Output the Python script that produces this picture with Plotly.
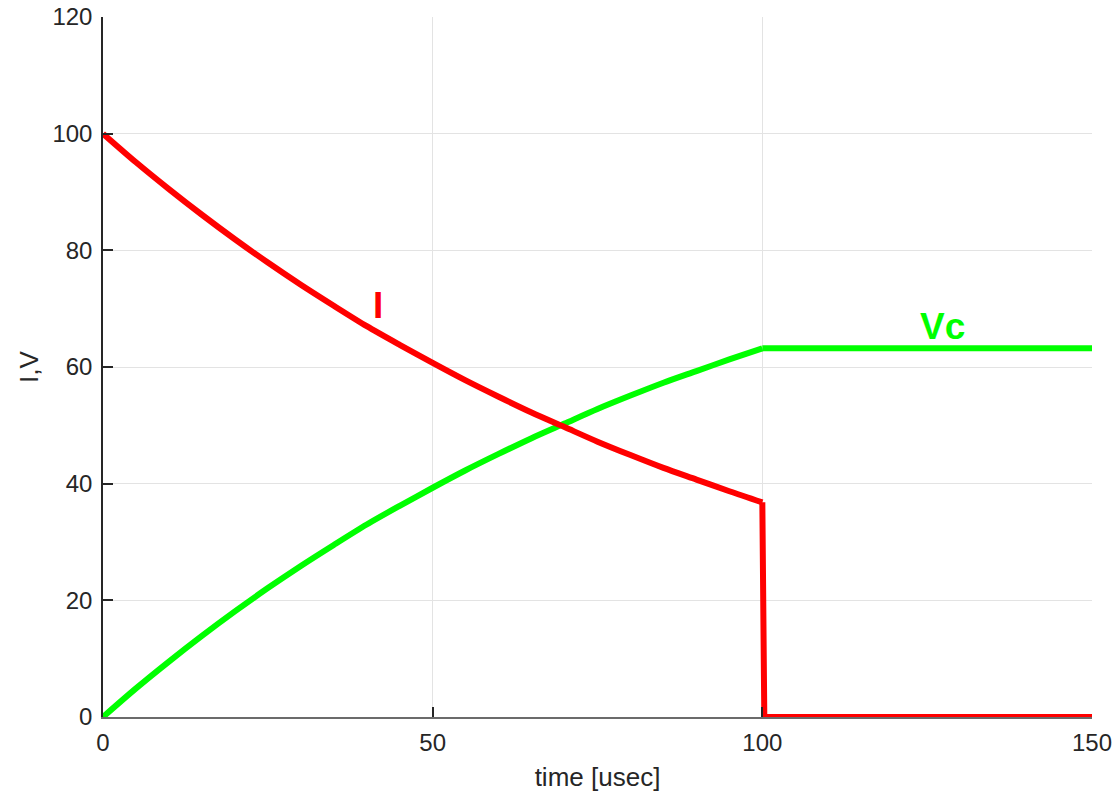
import plotly.graph_objects as go

# time samples [usec]
t_charge = [0, 5, 10, 15, 20, 25, 30, 35, 40, 45, 50,
            55, 60, 65, 70, 75, 80, 85, 90, 95, 100]

# current during charging, then switched off just after 100 usec
current_charge = [100, 95.1, 90.5, 86.1, 81.9, 77.9, 74.1, 70.5, 67.0, 63.8, 60.7,
                  57.7, 54.9, 52.2, 49.7, 47.2, 44.9, 42.7, 40.7, 38.7, 36.8]
t_off = [100, 100.3, 150]
current_off = [36.8, 0, 0]

# capacitor voltage, held after switch-off
vc_charge = [0, 4.9, 9.5, 13.9, 18.1, 22.1, 25.9, 29.5, 33.0, 36.2, 39.3,
             42.3, 45.1, 47.8, 50.3, 52.8, 55.1, 57.3, 59.3, 61.3, 63.2]
t_hold = [100, 150]
vc_hold = [63.2, 63.2]

x_ticks = [0, 50, 100, 150]
y_ticks = [0, 20, 40, 60, 80, 100, 120]

RED = "#ff0000"
GREEN = "#00ff00"
TXT = "#262626"
FONT = "Liberation Sans, Arial, sans-serif"
LW = 6

fig = go.Figure()
fig.add_trace(go.Scatter(x=t_charge, y=vc_charge, mode="lines",
                         line=dict(color=GREEN, width=LW, shape="spline", smoothing=0.8),
                         showlegend=False))
fig.add_trace(go.Scatter(x=t_hold, y=vc_hold, mode="lines",
                         line=dict(color=GREEN, width=LW), showlegend=False))
fig.add_trace(go.Scatter(x=t_charge, y=current_charge, mode="lines",
                         line=dict(color=RED, width=LW, shape="spline", smoothing=0.8),
                         showlegend=False))
fig.add_trace(go.Scatter(x=t_off, y=current_off, mode="lines",
                         line=dict(color=RED, width=LW), showlegend=False))

fig.add_annotation(x=41.7, y=70.5, text="<b>I</b>", showarrow=False,
                   font=dict(family=FONT, size=37, color=RED))
fig.add_annotation(x=127.4, y=67.0, text="<b>Vc</b>", showarrow=False,
                   font=dict(family=FONT, size=37, color=GREEN))

axis_common = dict(
    showgrid=True, gridcolor="#e3e3e3", gridwidth=1,
    zeroline=False, showline=True,
    ticks="inside", ticklen=10, tickcolor=TXT, tickwidth=1.5,
    tickfont=dict(family=FONT, size=24, color=TXT),
    mirror=False, automargin=False,
)

fig.update_xaxes(range=[0, 150], tickvals=x_ticks, ticklabelstandoff=3,
                 linecolor="#6b6b6b", linewidth=2,
                 title=dict(text="time [usec]", font=dict(family=FONT, size=26, color=TXT),
                            standoff=13),
                 **axis_common)
fig.update_yaxes(range=[0, 120], tickvals=y_ticks, ticklabelstandoff=4,
                 linecolor=TXT, linewidth=1.5,
                 title=dict(text="I,V", font=dict(family=FONT, size=26, color=TXT),
                            standoff=6),
                 **axis_common)

fig.update_layout(
    width=1119, height=795,
    margin=dict(l=103, r=27, t=17, b=78),
    paper_bgcolor="white", plot_bgcolor="white",
    font=dict(family=FONT, color=TXT),
)

fig.write_html("out.html")
